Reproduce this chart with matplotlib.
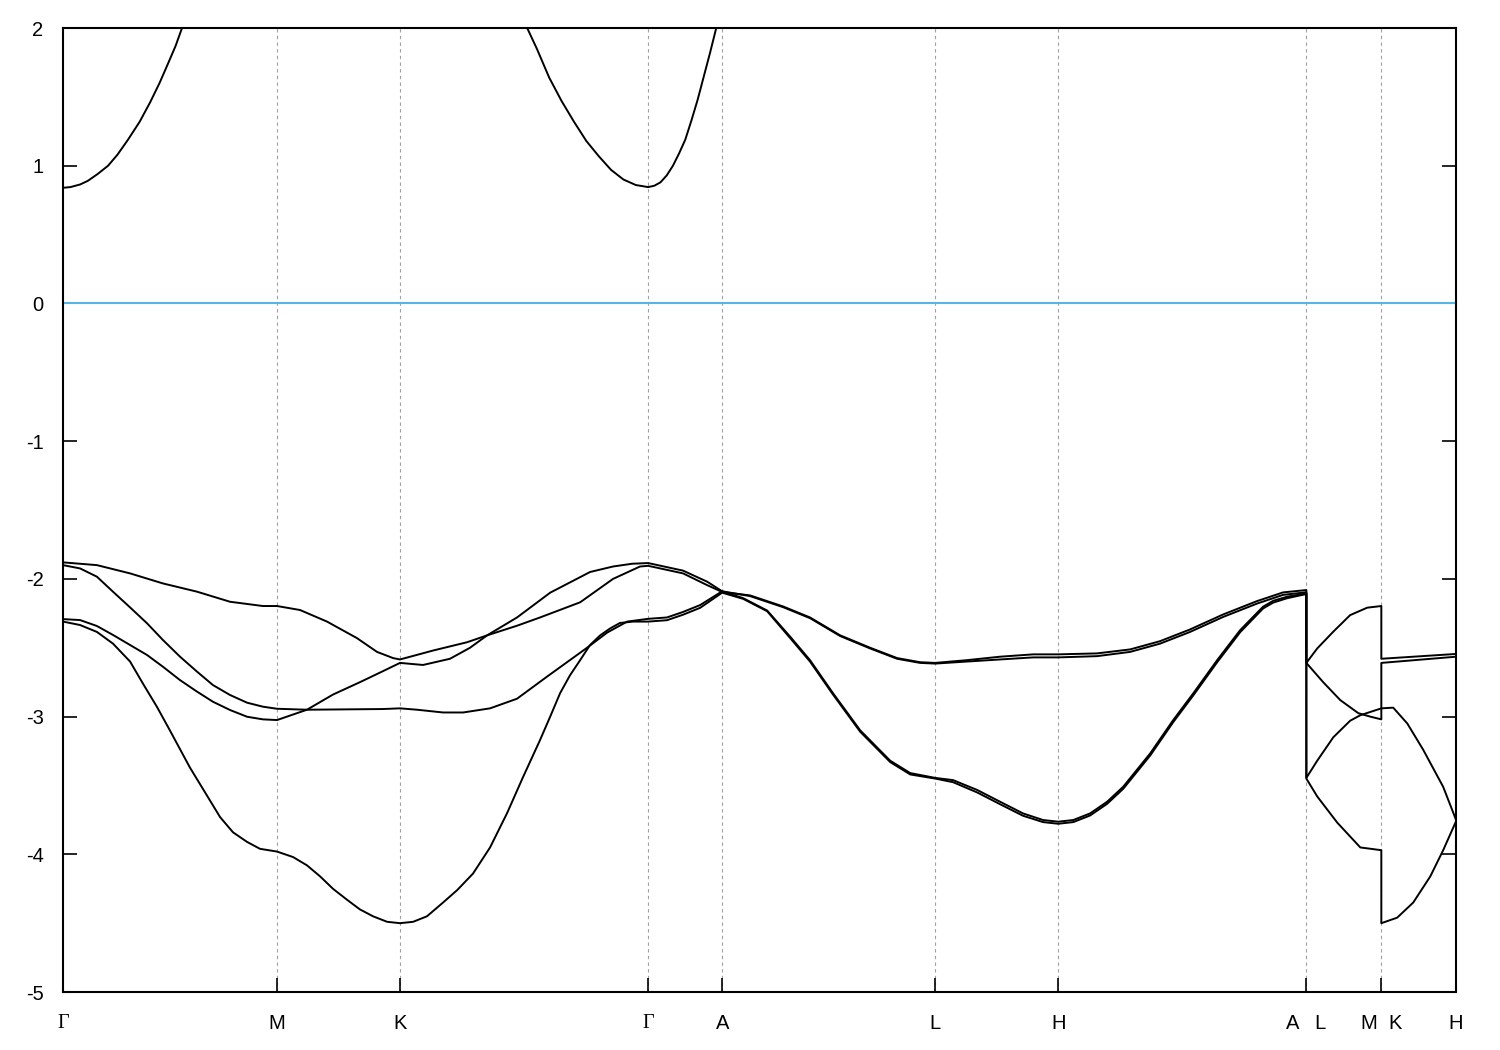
import matplotlib
matplotlib.use("Agg")
import matplotlib.pyplot as plt

plt.rcParams['font.family'] = ['Liberation Sans', 'DejaVu Sans']
plt.rcParams['axes.unicode_minus'] = False

# high-symmetry points along the path
tick_k = [0.0, 0.865, 1.362, 2.365, 2.664, 3.525, 4.022, 5.025, 5.328, 5.630]
tick_labels = ['Γ', 'M', 'K', 'Γ', 'A', 'L', 'H', 'A   L', 'M  K', 'H']

# conduction band (runs off the top of the window)
k_cond = [0.0, 0.03, 0.069, 0.10, 0.14, 0.182, 0.22, 0.263, 0.31, 0.352, 0.39, 0.424,
          0.455, 0.481, 0.534, 0.865, 1.362, 1.827,
          1.876, 1.915, 1.965, 2.015, 2.065, 2.115, 2.165, 2.215, 2.265, 2.315, 2.365,
          2.39, 2.415, 2.44, 2.465, 2.49, 2.515, 2.54, 2.565, 2.59, 2.615, 2.64, 2.664]
e_cond = [0.84, 0.845, 0.864, 0.89, 0.94, 1.0, 1.08, 1.19, 1.32, 1.46, 1.6, 1.74,
          1.87, 2.0, 2.4, 3.6, 3.9, 2.4,
          2.0, 1.85, 1.64, 1.47, 1.32, 1.18, 1.07, 0.97, 0.9, 0.86, 0.845,
          0.855, 0.88, 0.93, 1.0, 1.09, 1.19, 1.33, 1.48, 1.65, 1.82, 2.0, 2.2]

# valence band 1
k_v1 = [0.0, 0.137, 0.271, 0.404, 0.542, 0.675, 0.808, 0.865,
        0.958, 1.067, 1.188, 1.269, 1.334, 1.362,
        1.496, 1.633, 1.714, 1.835, 1.928, 2.090, 2.223, 2.332, 2.365,
        2.506, 2.603, 2.664,
        2.777, 2.910, 3.019, 3.141, 3.262, 3.371, 3.464, 3.525,
        3.654, 3.787, 3.921, 4.022,
        4.179, 4.313, 4.434, 4.555, 4.689, 4.826, 4.931, 5.025,
        5.025, 5.069, 5.134, 5.202, 5.271, 5.328,
        5.328, 5.630]
e_v1 = [-1.88, -1.90, -1.96, -2.033, -2.093, -2.166, -2.197, -2.197,
        -2.226, -2.31, -2.43, -2.53, -2.575, -2.585,
        -2.52, -2.46, -2.41, -2.34, -2.28, -2.17, -2.0, -1.91, -1.905,
        -1.96, -2.045, -2.095,
        -2.12, -2.20, -2.28, -2.41, -2.50, -2.575, -2.605, -2.61,
        -2.59, -2.565, -2.548, -2.548,
        -2.541, -2.512, -2.452, -2.367, -2.258, -2.161, -2.098, -2.081,
        -2.61, -2.505, -2.383, -2.263, -2.209, -2.197,
        -2.58, -2.545]

# valence band 2
k_v2 = [0.0, 0.069, 0.137, 0.202, 0.271, 0.340, 0.404, 0.473, 0.542, 0.606, 0.675, 0.744, 0.808, 0.865,
        0.986, 1.293, 1.362,
        1.431, 1.536, 1.617, 1.726, 1.835, 1.956, 2.118, 2.199, 2.280, 2.365,
        2.441, 2.506, 2.575, 2.664,
        2.777, 2.910, 3.019, 3.141, 3.262, 3.371, 3.464, 3.525,
        3.654, 3.787, 3.921, 4.022,
        4.179, 4.313, 4.434, 4.555, 4.689, 4.826, 4.931, 5.025,
        5.025, 5.093, 5.162, 5.235, 5.283, 5.328,
        5.328, 5.630]
e_v2 = [-1.90, -1.924, -1.984, -2.093, -2.207, -2.323, -2.444, -2.565, -2.674, -2.771, -2.843, -2.899, -2.928, -2.943,
        -2.95, -2.945, -2.94,
        -2.95, -2.97, -2.97, -2.94, -2.87, -2.71, -2.50, -2.39, -2.31, -2.29,
        -2.28, -2.24, -2.19, -2.09,
        -2.125, -2.205, -2.285, -2.415, -2.505, -2.58, -2.61, -2.615,
        -2.60, -2.585, -2.57, -2.57,
        -2.561, -2.530, -2.470, -2.385, -2.276, -2.179, -2.116, -2.097,
        -2.61, -2.75, -2.88, -2.975, -3.0, -3.02,
        -2.61, -2.565]

# valence band 3
k_v3 = [0.0, 0.069, 0.137, 0.202, 0.271, 0.340, 0.404, 0.473, 0.542, 0.606, 0.675, 0.744, 0.808, 0.865,
        0.986, 1.091, 1.200, 1.293, 1.362,
        1.455, 1.564, 1.645, 1.714, 1.835, 1.969, 2.130, 2.223, 2.300, 2.365,
        2.506, 2.603, 2.664,
        2.749, 2.846, 2.939, 3.019, 3.112, 3.222, 3.343, 3.424, 3.525,
        3.597, 3.695, 3.787, 3.880, 3.961, 4.022,
        4.083, 4.151, 4.220, 4.285, 4.394, 4.487, 4.568, 4.665, 4.758, 4.850, 4.891, 4.948, 5.025,
        5.025, 5.069, 5.134, 5.202, 5.243, 5.328,
        5.376, 5.433, 5.497, 5.578, 5.630]
e_v3 = [-2.292, -2.299, -2.342, -2.407, -2.480, -2.553, -2.638, -2.735, -2.819, -2.892, -2.952, -3.001, -3.020, -3.025,
        -2.95, -2.84, -2.75, -2.67, -2.61,
        -2.625, -2.58, -2.50, -2.41, -2.28, -2.10, -1.95, -1.91, -1.89, -1.885,
        -1.94, -2.02, -2.09,
        -2.14, -2.23, -2.42, -2.59, -2.83, -3.10, -3.32, -3.41, -3.445,
        -3.461, -3.533, -3.618, -3.703, -3.751, -3.763,
        -3.751, -3.703, -3.618, -3.509, -3.267, -3.025, -2.831, -2.589, -2.371, -2.202, -2.159, -2.129, -2.105,
        -3.445, -3.32, -3.15, -3.03, -2.99, -2.94,
        -2.935, -3.05, -3.24, -3.51, -3.75]

# valence band 4
k_v4 = [0.0, 0.069, 0.137, 0.202, 0.271, 0.323, 0.380, 0.432, 0.513, 0.635, 0.687, 0.744, 0.796, 0.865,
        0.930, 0.986, 1.039, 1.091, 1.148, 1.200, 1.253, 1.310, 1.362,
        1.415, 1.471, 1.536, 1.593, 1.657, 1.726, 1.795, 1.859, 1.928, 1.969, 2.009, 2.049,
        2.090, 2.130, 2.171, 2.211, 2.251, 2.304, 2.365,
        2.441, 2.506, 2.575, 2.664,
        2.749, 2.846, 2.939, 3.019, 3.112, 3.222, 3.343, 3.424, 3.525,
        3.597, 3.695, 3.787, 3.880, 3.961, 4.022,
        4.083, 4.151, 4.220, 4.285, 4.394, 4.487, 4.568, 4.665, 4.758, 4.850, 4.891, 4.948, 5.025,
        5.025, 5.069, 5.150, 5.243, 5.328,
        5.328, 5.392, 5.457, 5.526, 5.578, 5.630]
e_v4 = [-2.31, -2.335, -2.385, -2.47, -2.60, -2.76, -2.93, -3.10, -3.37, -3.73, -3.84, -3.91, -3.96, -3.98,
        -4.02, -4.08, -4.16, -4.25, -4.33, -4.40, -4.45, -4.49, -4.50,
        -4.49, -4.45, -4.35, -4.26, -4.14, -3.95, -3.70, -3.44, -3.17, -3.00, -2.83, -2.70,
        -2.59, -2.48, -2.41, -2.36, -2.32, -2.31, -2.31,
        -2.30, -2.26, -2.21, -2.10,
        -2.145, -2.235, -2.43, -2.60, -2.84, -3.11, -3.33, -3.42, -3.45,
        -3.476, -3.551, -3.636, -3.720, -3.766, -3.778,
        -3.766, -3.718, -3.633, -3.524, -3.282, -3.040, -2.846, -2.604, -2.386, -2.215, -2.172, -2.14, -2.11,
        -3.45, -3.58, -3.77, -3.95, -3.97,
        -4.50, -4.46, -4.35, -4.16, -3.97, -3.76]

fig = plt.figure(figsize=(15, 10.5), dpi=100)
ax = fig.add_axes([0.042, 0.0552, 0.9287, 0.9181])

for k in tick_k[1:-1]:
    ax.axvline(k, color='#a0a0a0', lw=0.8, ls=(0, (3, 3)), zorder=1)

ax.axhline(0, color='#56b4e9', lw=1.5, zorder=2)

for k, e in [(k_cond, e_cond), (k_v1, e_v1), (k_v2, e_v2), (k_v3, e_v3), (k_v4, e_v4)]:
    ax.plot(k, e, color='black', lw=1.4, zorder=3)

ax.set_xlim(tick_k[0], tick_k[-1])
ax.set_ylim(-5, 2)
ax.set_yticks(range(-5, 3))
ax.set_xticks(tick_k)
ax.set_xticklabels(tick_labels)
for lab in ax.get_xticklabels():
    if lab.get_text() == 'Γ':
        lab.set_fontfamily(['Liberation Serif', 'DejaVu Serif'])

ax.tick_params(axis='both', direction='in', length=10, width=1.2,
               labelsize=14.5, top=False, right=True)
ax.tick_params(axis='x', pad=16)
ax.tick_params(axis='y', pad=14)
for s in ax.spines.values():
    s.set_linewidth(1.5)

fig.savefig('out.png', dpi=100)
